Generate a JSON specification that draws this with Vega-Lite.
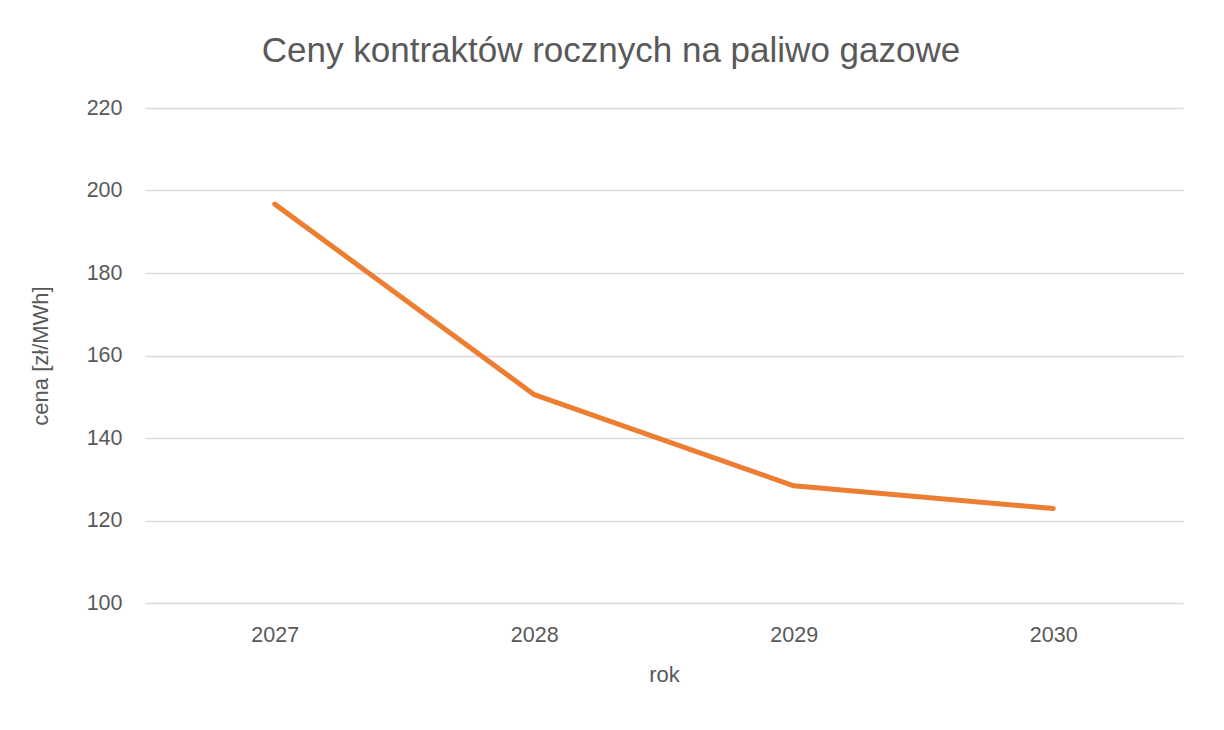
{
  "$schema": "https://vega.github.io/schema/vega-lite/v6.json",
  "width": 1038,
  "height": 495,
  "autosize": {"type": "none"},
  "padding": {"left": 145, "top": 108, "right": 41, "bottom": 127},
  "background": "white",
  "config": {
    "font": "Liberation Sans",
    "view": {"stroke": null},
    "axis": {
      "labelColor": "#595959",
      "titleColor": "#595959",
      "labelFontSize": 21.5,
      "titleFontSize": 22,
      "titleFontWeight": "normal",
      "labelFont": "Liberation Sans",
      "titleFont": "Liberation Sans",
      "domain": false,
      "ticks": false,
      "gridColor": "#d9d9d9",
      "gridWidth": 1.5
    }
  },
  "title": {
    "text": "Ceny kontraktów rocznych na paliwo gazowe",
    "fontSize": 35,
    "fontWeight": "normal",
    "color": "#595959",
    "font": "Liberation Sans",
    "frame": "group",
    "anchor": "middle",
    "dx": -53,
    "dy": 43,
    "baseline": "alphabetic",
    "offset": 43
  },
  "data": {
    "values": [
      {"rok": "2027", "cena": 196.7},
      {"rok": "2028", "cena": 150.5},
      {"rok": "2029", "cena": 128.4},
      {"rok": "2030", "cena": 122.9}
    ]
  },
  "mark": {"type": "line", "color": "#ED7D31", "strokeWidth": 5, "strokeCap": "round", "strokeJoin": "round"},
  "encoding": {
    "x": {
      "field": "rok",
      "type": "ordinal",
      "scale": {"type": "point", "padding": 0.5},
      "axis": {"labelAngle": 0, "grid": false, "labelPadding": 21, "titlePadding": 19, "title": "rok"}
    },
    "y": {
      "field": "cena",
      "type": "quantitative",
      "scale": {"domain": [100, 220], "nice": false, "zero": false},
      "axis": {"values": [100, 120, 140, 160, 180, 200, 220], "labelPadding": 23, "titlePadding": 34, "title": "cena [zł/MWh]"}
    }
  }
}
